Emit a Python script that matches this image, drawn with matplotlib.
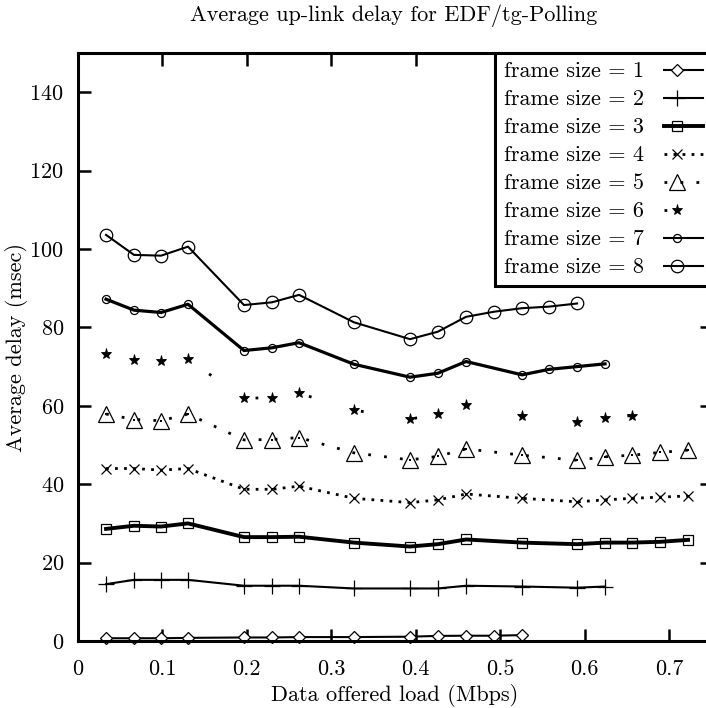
import matplotlib
matplotlib.use("Agg")
import matplotlib.pyplot as plt
from matplotlib.lines import Line2D
from matplotlib.legend_handler import HandlerLine2D

plt.rcParams["font.family"] = ["cmr10", "DejaVu Serif"]
plt.rcParams["axes.formatter.use_mathtext"] = True
plt.rcParams["lines.scale_dashes"] = False
plt.rcParams["font.size"] = 16

# Offered load values (Mbps) of the measured points
load = [0.0334, 0.0665, 0.0985, 0.1304, 0.1640, 0.1967, 0.2298, 0.2618, 0.2950,
        0.3268, 0.3600, 0.3931, 0.4260, 0.4594, 0.4925, 0.5257, 0.5577, 0.5908,
        0.6239, 0.6559, 0.6890, 0.7221]

# indices into `load` for each series
idx_f1 = [0, 1, 2, 3, 5, 6, 7, 9, 11, 12, 13, 14, 15]
idx_f2 = [0, 1, 2, 3, 5, 6, 7, 9, 11, 12, 13, 15, 17, 18]
idx_f3 = [0, 1, 2, 3, 5, 6, 7, 9, 11, 12, 13, 15, 17, 18, 19, 20, 21]
idx_f4 = idx_f3
idx_f5 = idx_f3
idx_f6 = [0, 1, 2, 3, 5, 6, 7, 9, 11, 12, 13, 15, 17, 18, 19]
idx_f7 = [0, 1, 2, 3, 5, 6, 7, 9, 11, 12, 13, 15, 16, 17, 18]
idx_f8 = [0, 1, 2, 3, 5, 6, 7, 9, 11, 12, 13, 14, 15, 16, 17]

# Average up-link delay (msec)
delay_f1 = [0.7, 0.7, 0.7, 0.8, 0.9, 0.9, 1.0, 1.0, 1.1, 1.3, 1.35, 1.35, 1.5]
delay_f2 = [14.5, 15.6, 15.6, 15.6, 14.1, 14.1, 14.1, 13.4, 13.4, 13.4, 14.1, 13.9, 13.6, 13.9]
delay_f3 = [28.6, 29.4, 29.2, 30.0, 26.5, 26.5, 26.6, 25.1, 24.1, 24.7, 25.9, 25.1,
            24.7, 25.1, 25.1, 25.3, 25.8]
delay_f4 = [44.0, 44.0, 43.6, 44.0, 38.7, 38.7, 39.5, 36.4, 35.3, 36.0, 37.5, 36.4,
            35.5, 36.0, 36.4, 36.7, 37.0]
delay_f5 = [57.9, 56.5, 56.2, 57.9, 51.3, 51.4, 51.9, 48.0, 46.2, 47.1, 49.0, 47.4,
            46.1, 47.0, 47.4, 48.1, 48.7]
delay_f6 = [73.1, 71.7, 71.4, 71.9, 61.9, 62.1, 63.2, 58.9, 56.6, 57.9, 60.2, 57.5,
            55.8, 57.0, 57.5]
delay_f7 = [87.2, 84.4, 83.8, 85.9, 74.1, 74.8, 76.1, 70.6, 67.3, 68.3, 71.3, 67.9,
            69.3, 70.0, 70.7]
delay_f8 = [103.6, 98.5, 98.3, 100.6, 85.7, 86.4, 88.3, 81.3, 77.0, 78.9, 82.7, 84.0,
            84.9, 85.3, 86.1]

labels = ["frame size = %d" % i for i in range(1, 9)]
x_ticks = [0, 0.1, 0.2, 0.3, 0.4, 0.5, 0.6, 0.7]
y_ticks = [0, 20, 40, 60, 80, 100, 120, 140]

series = [
    (idx_f1, delay_f1, dict(ls="-", lw=1.5, marker="D", ms=6.2, mfc="white", mew=0.9)),
    (idx_f2, delay_f2, dict(ls="-", lw=1.5, marker="+", ms=12, mew=0.9)),
    (idx_f3, delay_f3, dict(ls="-", lw=2.8, marker="s", ms=7.8, mfc="none", mew=0.9)),
    (idx_f4, delay_f4, dict(ls=(0, (2.0, 4.5)), lw=2.0, marker="x", ms=7.5, mew=0.9)),
    (idx_f5, delay_f5, dict(ls=(0, (2.0, 9.5)), lw=2.0, marker="^", ms=11, mfc="none", mew=0.9)),
    (idx_f6, delay_f6, dict(ls=(0, (2.0, 37.0)), lw=2.0, marker="*", ms=8, mew=0.6)),
    (idx_f7, delay_f7, dict(ls="-", lw=2.3, marker="o", ms=5.8, mfc="none", mew=0.9)),
    (idx_f8, delay_f8, dict(ls="-", lw=1.5, marker="o", ms=9, mfc="none", mew=0.9)),
]

fig = plt.figure(figsize=(7.06, 7.08), dpi=100)
ax = fig.add_axes([77.8 / 706, 67 / 708, (711.6 - 77.8) / 706, (641 - 53) / 708])

handles = []
for i, (idx, vals, style) in enumerate(series):
    xs = [load[k] for k in idx]
    ax.plot(xs, vals, color="black", dash_capstyle="butt", label=labels[i],
            clip_on=False, **style)
    if i in (3, 4):
        # small dot at each vertex of the dotted curves
        ax.plot(xs, vals, ls="none", marker="s", ms=2.0, color="black", mew=0)
    hstyle = dict(style)
    if i == 6:
        hstyle["lw"] = 1.5
    handles.append(Line2D([], [], color="black", dash_capstyle="butt", **hstyle))


class SampleHandler(HandlerLine2D):
    """Key sample with the marker placed left of the sample's centre."""

    def create_artists(self, legend, orig_handle, xdescent, ydescent,
                       width, height, fontsize, trans):
        arts = super().create_artists(legend, orig_handle, xdescent, ydescent,
                                      width, height, fontsize, trans)
        line = arts[0]
        xd = list(line.get_xdata())
        x0, x1 = xd[0], xd[-1]
        line.set_xdata([x0, x0 + 0.35 * (x1 - x0), x1])
        return arts


leg = ax.legend(handles, labels, loc="upper right", borderaxespad=0,
                fontsize=16, frameon=True, fancybox=False, framealpha=1,
                edgecolor="black", borderpad=0.4, labelspacing=0.38,
                handlelength=1.75, handletextpad=0.9, numpoints=1,
                markerfirst=False,
                handler_map={Line2D: SampleHandler(numpoints=1)})
leg.get_frame().set_linewidth(2.2)

ax.set_xlim(0, 0.75)
ax.set_ylim(0, 150)
ax.set_xticks(x_ticks)
ax.set_xticklabels(["0", "0.1", "0.2", "0.3", "0.4", "0.5", "0.6", "0.7"])
ax.set_yticks(y_ticks)
ax.tick_params(direction="in", length=9, width=1.8, top=True, right=True,
               labelsize=16)
ax.tick_params(axis="x", pad=13)
ax.tick_params(axis="y", pad=10)
for sp in ax.spines.values():
    sp.set_linewidth(2.2)

ax.set_xlabel("Data offered load (Mbps)", fontsize=16, labelpad=4)
ax.set_ylabel("Average delay (msec)", fontsize=16)
ax.yaxis.set_label_coords((28 - 77.8) / 633.8, 0.5)
fig.text(394 / 706, 1 - 16 / 708, "Average up-link delay for EDF/tg-Polling",
         ha="center", va="center", fontsize=16)

fig.savefig("out.png", dpi=100)
